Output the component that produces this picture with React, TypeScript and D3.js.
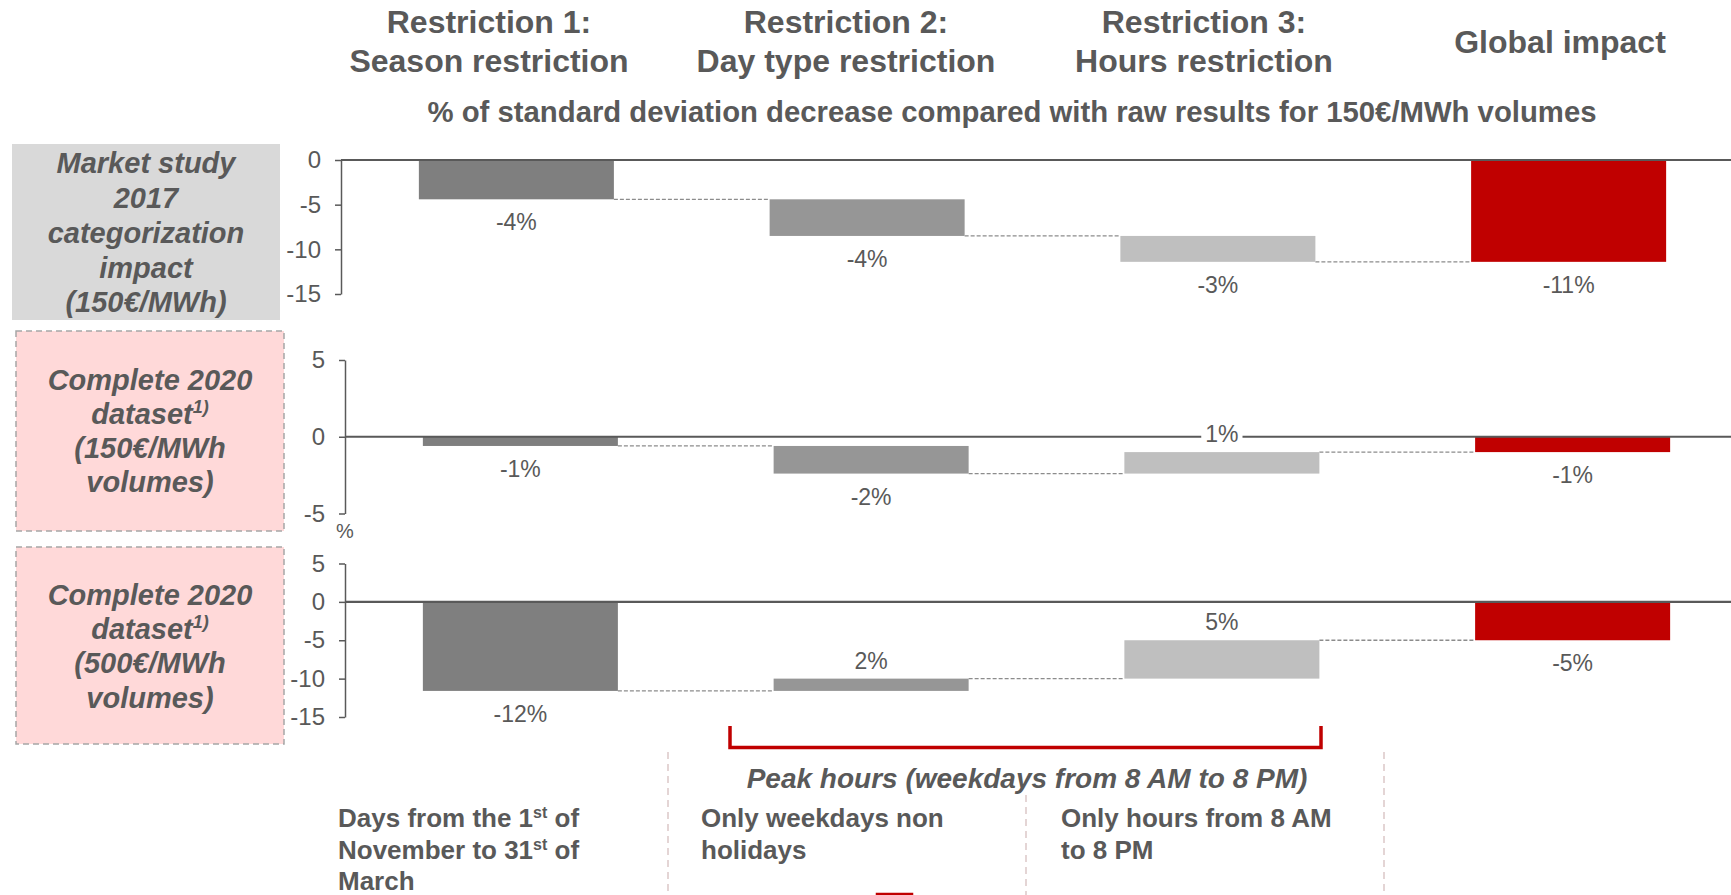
import React, { useEffect, useRef } from "react";
import * as d3 from "d3";

const W = 1731;
const H = 895;
const FONT = "'Liberation Sans', Arial, Helvetica, sans-serif";
const INK = "#595959";

// Waterfall categories (three restrictions followed by the global total)
const categories = ["Season", "Day type", "Hours", "Global"];
const stepColors = ["#7f7f7f", "#969696", "#bfbfbf", "#c00000"];

// Column headers
const headerLines = [
  ["Restriction 1:", "Season restriction"],
  ["Restriction 2:", "Day type restriction"],
  ["Restriction 3:", "Hours restriction"],
  ["Global impact"],
];
const headerX = [489, 846, 1204, 1560];

// % change of the standard deviation per restriction step, last value = global impact
const marketStudy2017 = [-4.4, -4.1, -2.9, -11.4];
const complete2020At150 = [-0.6, -1.8, 1.4, -1.0];
const complete2020At500 = [-11.6, 1.6, 5.0, -5.0];

// Y axis ticks for each panel
const ticksMarket = [0, -5, -10, -15];
const ticks150 = [5, 0, -5];
const ticks500 = [5, 0, -5, -10, -15];

// Row captions (left boxes)
const captionMarket = ["Market study", "2017", "categorization", "impact", "(150€/MWh)"];
const caption150 = ["Complete 2020", "dataset¹⁾", "(150€/MWh", "volumes)"];
const caption500 = ["Complete 2020", "dataset¹⁾", "(500€/MWh", "volumes)"];

// Footer descriptions of each restriction
const footSeason = ["Days from the 1|st| of", "November to 31|st| of", "March"];
const footDayType = ["Only weekdays non", "holidays"];
const footHours = ["Only hours from 8 AM", "to 8 PM"];

type Panel = {
  values: number[];
  domain: [number, number];
  ticks: number[];
  x0: number;
  yTop: number;
  yBottom: number;
  unit?: boolean;
};

const panels: Panel[] = [
  { values: marketStudy2017, domain: [-15, 0], ticks: ticksMarket, x0: 341, yTop: 160, yBottom: 294 },
  { values: complete2020At150, domain: [-5, 5], ticks: ticks150, x0: 345, yTop: 360, yBottom: 513.5, unit: true },
  { values: complete2020At500, domain: [-15, 5], ticks: ticks500, x0: 345, yTop: 563.5, yBottom: 717 },
];

type Box = { x: number; y: number; w: number; h: number; fill: string; dashed: boolean; lines: string[]; lineY: number[] };
const boxes: Box[] = [
  { x: 12, y: 144, w: 268, h: 176, fill: "#d9d9d9", dashed: false, lines: captionMarket, lineY: [163, 198, 233, 268, 302] },
  { x: 16, y: 331, w: 268, h: 200, fill: "#ffd9d9", dashed: true, lines: caption150, lineY: [380, 414, 448, 482] },
  { x: 16, y: 547, w: 268, h: 197, fill: "#ffd9d9", dashed: true, lines: caption500, lineY: [595, 629, 663, 698] },
];

const fmtPct = (v: number) => `${Math.round(v)}%`;

export default function App() {
  const ref = useRef<SVGSVGElement | null>(null);

  useEffect(() => {
    document.body.style.margin = "0";
    const svg = d3.select(ref.current);
    svg.selectAll("*").remove();

    // Headers
    const head = svg.append("g").attr("font-family", FONT).attr("font-weight", "bold").attr("fill", INK).attr("text-anchor", "middle");
    headerLines.forEach((lines, i) => {
      const ys = lines.length === 2 ? [33, 72] : [53];
      lines.forEach((t, j) => {
        head.append("text").attr("x", headerX[i]).attr("y", ys[j]).attr("font-size", 32).text(t);
      });
    });
    head.append("text").attr("x", 1012).attr("y", 122).attr("font-size", 29.3)
      .text("% of standard deviation decrease compared with raw results for 150€/MWh volumes");

    // Left caption boxes
    boxes.forEach((b) => {
      svg.append("rect").attr("x", b.x).attr("y", b.y).attr("width", b.w).attr("height", b.h)
        .attr("fill", b.fill)
        .attr("stroke", b.dashed ? "#a6a6a6" : "none")
        .attr("stroke-width", 1.5)
        .attr("stroke-dasharray", b.dashed ? "6,4" : null);
      b.lines.forEach((t, j) => {
        const txt = svg.append("text").attr("x", b.x + b.w / 2).attr("y", b.lineY[j] + 10)
          .attr("text-anchor", "middle").attr("font-family", FONT).attr("font-weight", "bold")
          .attr("font-style", "italic").attr("font-size", 29).attr("fill", INK);
        if (t.endsWith("¹⁾")) {
          txt.append("tspan").text(t.slice(0, -2));
          txt.append("tspan").attr("font-size", 18).attr("dy", -11).text("1)");
        } else {
          txt.text(t);
        }
      });
    });

    // Waterfall panels
    panels.forEach((p) => {
      const g = svg.append("g");
      const x = d3.scaleBand<string>().domain(categories).range([p.x0, p.x0 + 1403]).paddingInner(0.444).paddingOuter(0.222);
      const y = d3.scaleLinear().domain(p.domain).range([p.yBottom, p.yTop]);
      const bw = x.bandwidth();

      let cum = 0;
      const segs = p.values.map((v, i) => {
        if (i === p.values.length - 1) return { cat: categories[i], start: 0, end: v, v, color: stepColors[i] };
        const s = { cat: categories[i], start: cum, end: cum + v, v, color: stepColors[i] };
        cum += v;
        return s;
      });

      // connectors
      segs.slice(0, -1).forEach((s, i) => {
        const next = segs[i + 1];
        g.append("line")
          .attr("x1", (x(s.cat) as number) + bw).attr("x2", x(next.cat) as number)
          .attr("y1", y(s.end)).attr("y2", y(s.end))
          .attr("stroke", "#8c8c8c").attr("stroke-width", 1.3).attr("stroke-dasharray", "4,2");
      });

      // bars
      g.selectAll("rect.bar").data(segs).join("rect").attr("class", "bar")
        .attr("x", (d) => x(d.cat) as number)
        .attr("width", bw)
        .attr("y", (d) => y(Math.max(d.start, d.end)))
        .attr("height", (d) => Math.abs(y(d.start) - y(d.end)))
        .attr("fill", (d) => d.color);

      // zero line
      g.append("line").attr("x1", p.x0).attr("x2", W).attr("y1", y(0)).attr("y2", y(0))
        .attr("stroke", INK).attr("stroke-width", 2.2);

      // y axis
      const ax = g.append("g").attr("transform", `translate(${p.x0},0)`)
        .call(d3.axisLeft(y).tickValues(p.ticks).tickSize(6).tickSizeOuter(0).tickPadding(14).tickFormat((d) => String(d)));
      ax.select(".domain").attr("stroke", INK).attr("stroke-width", 1.5);
      ax.selectAll(".tick line").attr("stroke", INK).attr("stroke-width", 1.5);
      ax.selectAll(".tick text").attr("font-family", FONT).attr("font-size", 24).attr("fill", INK);

      if (p.unit) {
        g.append("text").attr("x", p.x0).attr("y", p.yBottom + 24).attr("text-anchor", "middle")
          .attr("font-family", FONT).attr("font-size", 20).attr("fill", INK).text("%");
      }

      // value labels
      segs.forEach((s) => {
        const up = s.v > 0;
        const cy = up ? y(Math.max(s.start, s.end)) - 18 : y(Math.min(s.start, s.end)) + 23;
        const cx = (x(s.cat) as number) + bw / 2;
        const lg = g.append("g");
        const bg = lg.append("rect").attr("fill", "#ffffff");
        const t = lg.append("text").attr("x", cx).attr("y", cy).attr("dy", "0.35em").attr("text-anchor", "middle")
          .attr("font-family", FONT).attr("font-size", 23).attr("fill", INK).text(fmtPct(s.v));
        const bb = (t.node() as SVGTextElement).getBBox();
        bg.attr("x", bb.x - 4).attr("y", bb.y + 2).attr("width", bb.width + 8).attr("height", bb.height - 4);
      });
    });

    // Peak hours bracket
    svg.append("path").attr("d", "M730,726V747.5H1321V726").attr("fill", "none")
      .attr("stroke", "#c00000").attr("stroke-width", 3.5);
    svg.append("text").attr("x", 1027).attr("y", 788).attr("text-anchor", "middle")
      .attr("font-family", FONT).attr("font-weight", "bold").attr("font-style", "italic")
      .attr("font-size", 28).attr("fill", INK).text("Peak hours (weekdays from 8 AM to 8 PM)");

    // Separators
    const sep = [
      { x: 668, y1: 752 },
      { x: 1026, y1: 795 },
      { x: 1384, y1: 752 },
    ];
    sep.forEach((s) => {
      svg.append("line").attr("x1", s.x).attr("x2", s.x).attr("y1", s.y1).attr("y2", H)
        .attr("stroke", "#dcc8c8").attr("stroke-width", 1.5).attr("stroke-dasharray", "7,5");
    });

    // Footer texts
    const foot = (lines: string[], x0: number) => {
      lines.forEach((line, j) => {
        const t = svg.append("text").attr("x", x0).attr("y", 827 + j * 31.5)
          .attr("font-family", FONT).attr("font-weight", "bold").attr("font-size", 26).attr("fill", INK);
        line.split("|").forEach((part, k) => {
          if (k % 2 === 1) {
            t.append("tspan").attr("font-size", 16).attr("dy", -9).text(part);
          } else {
            t.append("tspan").attr("dy", k > 0 ? 9 : 0).text(part);
          }
        });
      });
    };
    foot(footSeason, 338);
    foot(footDayType, 701);
    foot(footHours, 1061);

    svg.append("rect").attr("x", 877).attr("y", 894).attr("width", 35).attr("height", 12)
      .attr("fill", "none").attr("stroke", "#c00000").attr("stroke-width", 2.5);
  }, []);

  return <svg ref={ref} width={W} height={H} style={{ display: "block", background: "#ffffff" }} />;
}
